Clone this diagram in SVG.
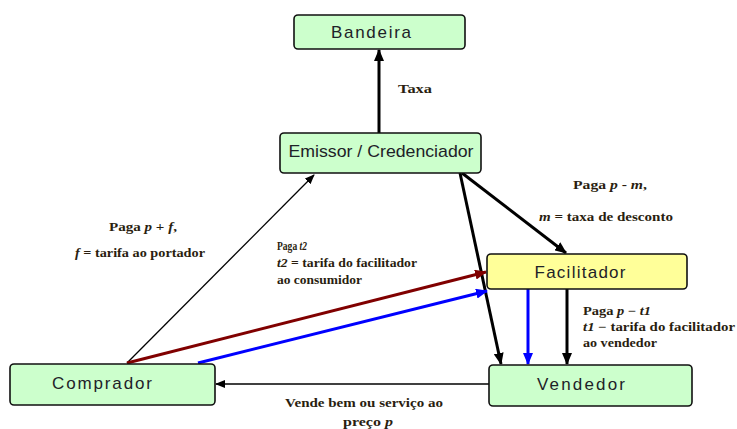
<svg xmlns="http://www.w3.org/2000/svg" width="737" height="429" viewBox="0 0 737 429">
  <style>
    .box { stroke: #111; stroke-width: 1.6; }
    .green { fill: #ccffcc; }
    .yellow { fill: #ffff99; }
    .name { font-family: "Liberation Sans", Arial, sans-serif; font-size: 17px; fill: #1e2228; text-anchor: middle; }
    .note { font-family: "Liberation Serif", "Times New Roman", serif; font-size: 12px; font-weight: bold; fill: #2a1e10; }
    .note tspan.v { font-style: italic; }
    .thick { fill: none; stroke-width: 3; }
    .thin { fill: none; stroke-width: 1.3; }
  </style>
  <defs>
    <marker id="ahBlack" markerUnits="userSpaceOnUse" viewBox="0 0 12 10" refX="11" refY="5" markerWidth="12" markerHeight="10" orient="auto">
      <path d="M0,0 L12,5 L0,10 Z" fill="#000"/>
    </marker>
    <marker id="ahBlackSmall" markerUnits="userSpaceOnUse" viewBox="0 0 10 8" refX="9" refY="4" markerWidth="10" markerHeight="8" orient="auto">
      <path d="M0,0 L10,4 L0,8 Z" fill="#000"/>
    </marker>
    <marker id="ahRed" markerUnits="userSpaceOnUse" viewBox="0 0 12 10" refX="11" refY="5" markerWidth="12" markerHeight="10" orient="auto">
      <path d="M0,0 L12,5 L0,10 Z" fill="#800000"/>
    </marker>
    <marker id="ahBlue" markerUnits="userSpaceOnUse" viewBox="0 0 12 10" refX="11" refY="5" markerWidth="12" markerHeight="10" orient="auto">
      <path d="M0,0 L12,5 L0,10 Z" fill="#0000ff"/>
    </marker>
  </defs>

  <rect width="737" height="429" fill="#ffffff"/>

  <!-- connectors -->
  <g id="connectors">
    <path class="thick" stroke="#000" d="M379,133 L379,50" marker-end="url(#ahBlack)"/>
    <path class="thin" stroke="#000" d="M127,363 L314,175" marker-end="url(#ahBlackSmall)"/>
    <path class="thick" stroke="#000" d="M462,173 L566,253" marker-end="url(#ahBlack)"/>
    <path class="thick" stroke="#000" d="M460,173 L501,364" marker-end="url(#ahBlack)"/>
    <path class="thick" stroke="#800000" d="M127,363 L486,272" marker-end="url(#ahRed)"/>
    <path class="thick" stroke="#0000ff" d="M198,363 L487,291" marker-end="url(#ahBlue)"/>
    <path class="thick" stroke="#0000ff" d="M528,289 L528,364" marker-end="url(#ahBlue)"/>
    <path class="thick" stroke="#000" d="M567,289 L567,364" marker-end="url(#ahBlack)"/>
    <path class="thin" stroke="#000" d="M489,384 L216,384" marker-end="url(#ahBlackSmall)"/>
  </g>

  <!-- nodes -->
  <g id="bandeira">
    <rect class="box green" x="294" y="15" width="171" height="34" rx="4"/>
    <text class="name" x="371" y="38" textLength="80" lengthAdjust="spacing">Bandeira</text>
  </g>
  <g id="emissor">
    <rect class="box green" x="280" y="133" width="201" height="40" rx="4"/>
    <text class="name" x="381" y="157" textLength="185" lengthAdjust="spacingAndGlyphs">Emissor / Credenciador</text>
  </g>
  <g id="facilitador">
    <rect class="box yellow" x="487" y="254" width="200" height="35" rx="4"/>
    <text class="name" x="580" y="278" textLength="91" lengthAdjust="spacing">Facilitador</text>
  </g>
  <g id="vendedor">
    <rect class="box green" x="489" y="365" width="203" height="41" rx="4"/>
    <text class="name" x="581" y="390" textLength="88" lengthAdjust="spacing">Vendedor</text>
  </g>
  <g id="comprador">
    <rect class="box green" x="10" y="364" width="205" height="41" rx="4"/>
    <text class="name" x="102" y="389" textLength="100" lengthAdjust="spacing">Comprador</text>
  </g>

  <!-- payment labels -->
  <g id="labels" class="note">
    <text x="398" y="93" textLength="34" lengthAdjust="spacingAndGlyphs">Taxa</text>

    <text x="109" y="231" textLength="68" lengthAdjust="spacingAndGlyphs">Paga <tspan class="v">p</tspan> + <tspan class="v">f</tspan>,</text>
    <text x="75" y="257" textLength="130" lengthAdjust="spacingAndGlyphs"><tspan class="v">f</tspan> = tarifa ao portador</text>

    <text x="277" y="250" textLength="30" lengthAdjust="spacingAndGlyphs">Paga <tspan class="v">t2</tspan></text>
    <text x="277" y="267" textLength="140" lengthAdjust="spacingAndGlyphs"><tspan class="v">t2</tspan> = tarifa do facilitador</text>
    <text x="277" y="284" textLength="85" lengthAdjust="spacingAndGlyphs">ao consumidor</text>

    <text x="573" y="189" textLength="74" lengthAdjust="spacingAndGlyphs">Paga <tspan class="v">p</tspan> - <tspan class="v">m</tspan>,</text>
    <text x="539" y="221" textLength="134" lengthAdjust="spacingAndGlyphs"><tspan class="v">m</tspan> = taxa de desconto</text>

    <text x="583" y="315" textLength="68" lengthAdjust="spacingAndGlyphs">Paga <tspan class="v">p</tspan> − <tspan class="v">t1</tspan></text>
    <text x="583" y="331" textLength="152" lengthAdjust="spacingAndGlyphs"><tspan class="v">t1</tspan> − tarifa do facilitador</text>
    <text x="583" y="347" textLength="74" lengthAdjust="spacingAndGlyphs">ao vendedor</text>

    <text x="285" y="407" textLength="158" lengthAdjust="spacingAndGlyphs">Vende bem ou serviço ao</text>
    <text x="343" y="426" textLength="50" lengthAdjust="spacingAndGlyphs">preço <tspan class="v">p</tspan></text>
  </g>
</svg>
